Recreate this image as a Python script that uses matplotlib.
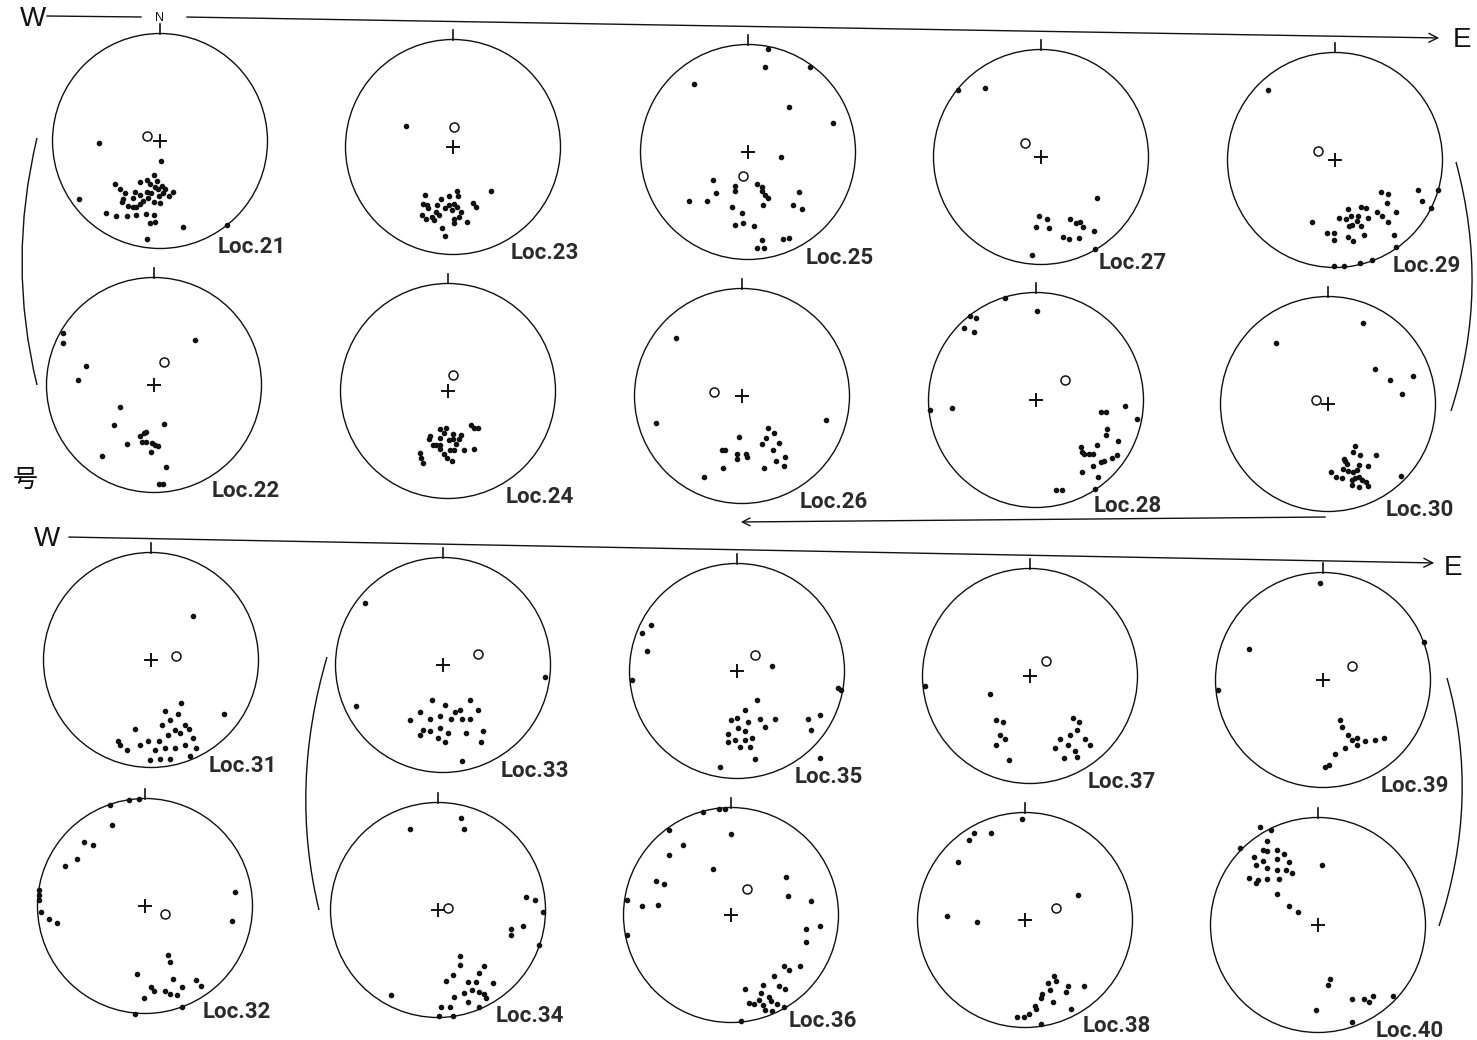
import numpy as np
import matplotlib.pyplot as plt
from matplotlib.path import Path
from matplotlib.patches import PathPatch, Circle

W, H = 1477, 1040

# poles per locality: (east, north) in units of the net radius
loc21 = [(-0.57, -0.02), (-0.75, -0.54), (0.01, -0.19), (0.62, -0.78), (0.21, -0.80), (-0.12, -0.91),
         (-0.42, -0.40), (-0.37, -0.45), (-0.33, -0.48), (-0.34, -0.54), (-0.35, -0.57), (-0.30, -0.60),
         (-0.25, -0.61), (-0.22, -0.61), (-0.19, -0.59), (-0.23, -0.47), (-0.19, -0.50), (-0.25, -0.53),
         (-0.19, -0.38), (-0.12, -0.36), (-0.06, -0.32), (-0.03, -0.37), (-0.09, -0.40), (-0.05, -0.43),
         (-0.02, -0.45), (0.02, -0.42), (0.03, -0.48), (-0.01, -0.51), (-0.08, -0.48), (-0.12, -0.47),
         (-0.11, -0.53), (-0.06, -0.57), (0.00, -0.58), (0.08, -0.51), (0.12, -0.47), (0.05, -0.45),
         (-0.16, -0.56), (-0.50, -0.67), (-0.41, -0.70), (-0.31, -0.70), (-0.22, -0.69), (-0.13, -0.68),
         (-0.06, -0.69), (-0.09, -0.76), (-0.05, -0.75)]
loc22 = [(-0.85, 0.48), (-0.85, 0.39), (-0.63, 0.18), (-0.71, 0.05), (0.38, 0.42), (-0.32, -0.20),
         (-0.37, -0.37), (0.09, -0.36), (-0.13, -0.47), (-0.09, -0.45), (-0.07, -0.44), (-0.11, -0.53),
         (-0.07, -0.53), (-0.02, -0.54), (0.01, -0.56), (0.04, -0.57), (-0.03, -0.62), (-0.25, -0.55),
         (-0.48, -0.66), (0.11, -0.76), (0.05, -0.92), (0.08, -0.92)]
loc23 = [(-0.44, 0.20), (0.35, -0.41), (-0.26, -0.45), (-0.28, -0.53), (-0.24, -0.54), (-0.23, -0.57),
         (-0.29, -0.63), (-0.25, -0.67), (-0.20, -0.65), (-0.16, -0.60), (-0.15, -0.54), (-0.11, -0.48),
         (-0.04, -0.46), (0.04, -0.41), (0.05, -0.46), (0.01, -0.53), (-0.04, -0.54), (-0.07, -0.57),
         (-0.01, -0.59), (0.04, -0.56), (0.07, -0.60), (0.06, -0.65), (0.01, -0.67), (0.01, -0.71),
         (0.13, -0.70), (0.19, -0.52), (0.21, -0.56), (-0.10, -0.75), (-0.07, -0.83), (-0.13, -0.63),
         (-0.18, -0.68)]
loc24 = [(0.21, -0.32), (0.24, -0.34), (0.28, -0.34), (-0.02, -0.34), (-0.07, -0.35), (-0.04, -0.39),
         (0.05, -0.40), (0.12, -0.41), (-0.17, -0.42), (-0.18, -0.45), (-0.07, -0.44), (0.01, -0.46),
         (0.05, -0.45), (0.10, -0.45), (0.07, -0.49), (-0.14, -0.50), (-0.11, -0.50), (-0.07, -0.50),
         (-0.07, -0.54), (0.02, -0.55), (0.06, -0.55), (0.15, -0.55), (0.24, -0.54), (-0.04, -0.59),
         (-0.01, -0.62), (0.04, -0.65), (-0.26, -0.58), (-0.25, -0.62), (-0.23, -0.67)]
loc25 = [(0.19, 0.96), (0.16, 0.79), (0.58, 0.79), (-0.50, 0.63), (0.38, 0.42), (0.79, 0.27),
         (0.31, -0.05), (-0.33, -0.26), (-0.12, -0.32), (-0.12, -0.36), (-0.30, -0.38), (-0.55, -0.46),
         (-0.38, -0.46), (0.08, -0.30), (0.13, -0.33), (0.13, -0.36), (0.16, -0.40), (0.19, -0.43),
         (0.47, -0.37), (0.42, -0.49), (0.50, -0.53), (0.14, -0.49), (-0.15, -0.51), (-0.06, -0.57),
         (-0.12, -0.68), (-0.05, -0.66), (0.06, -0.69), (0.13, -0.82), (0.08, -0.89), (0.15, -0.89),
         (0.33, -0.81), (0.38, -0.80)]
loc26 = [(-0.61, 0.54), (-0.80, -0.25), (0.78, -0.22), (-0.03, -0.38), (0.24, -0.30), (0.30, -0.34),
         (0.22, -0.39), (0.19, -0.45), (0.34, -0.44), (0.29, -0.50), (0.40, -0.57), (0.32, -0.60),
         (0.39, -0.65), (0.20, -0.67), (-0.19, -0.50), (-0.16, -0.50), (-0.05, -0.54), (-0.05, -0.59),
         (0.04, -0.54), (0.05, -0.57), (-0.18, -0.67), (-0.35, -0.75)]
loc27 = [(-0.77, 0.62), (-0.52, 0.64), (0.52, -0.38), (-0.02, -0.55), (0.06, -0.58), (-0.05, -0.65),
         (0.07, -0.66), (0.27, -0.58), (0.33, -0.61), (0.36, -0.60), (0.39, -0.65), (0.49, -0.69),
         (0.20, -0.74), (0.26, -0.76), (0.35, -0.75), (0.50, -0.86), (-0.08, -0.91)]
loc28 = [(-0.29, 0.95), (0.01, 0.83), (-0.61, 0.78), (-0.56, 0.76), (-0.67, 0.67), (-0.58, 0.63),
         (-0.99, -0.09), (-0.78, -0.07), (0.83, -0.06), (0.94, -0.18), (0.60, -0.11), (0.65, -0.11),
         (0.66, -0.27), (0.65, -0.33), (0.76, -0.38), (0.57, -0.42), (0.42, -0.44), (0.43, -0.48),
         (0.45, -0.50), (0.49, -0.50), (0.53, -0.50), (0.71, -0.54), (0.75, -0.51), (0.60, -0.58),
         (0.63, -0.57), (0.53, -0.61), (0.43, -0.67), (0.58, -0.72), (0.55, -0.83), (0.19, -0.84),
         (0.24, -0.84)]
loc29 = [(-0.62, 0.65), (-0.21, -0.58), (0.43, -0.30), (0.49, -0.32), (0.77, -0.28), (0.96, -0.28),
         (0.81, -0.38), (0.89, -0.45), (0.48, -0.40), (0.57, -0.48), (0.39, -0.48), (0.44, -0.52),
         (0.49, -0.58), (0.24, -0.44), (0.29, -0.45), (0.31, -0.54), (0.12, -0.46), (0.10, -0.55),
         (0.04, -0.54), (0.15, -0.52), (0.21, -0.52), (0.20, -0.57), (0.24, -0.61), (0.16, -0.60),
         (0.13, -0.61), (-0.07, -0.68), (-0.01, -0.68), (-0.01, -0.74), (0.12, -0.72), (0.17, -0.75),
         (0.27, -0.70), (0.55, -0.70), (0.57, -0.81), (0.34, -0.93), (0.23, -0.96), (0.08, -0.99),
         (-0.01, -0.99)]
loc30 = [(0.33, 0.75), (-0.48, 0.57), (0.44, 0.33), (0.58, 0.22), (0.79, 0.26), (0.69, 0.09),
         (0.25, -0.39), (0.23, -0.45), (0.30, -0.47), (0.45, -0.47), (0.37, -0.58), (0.15, -0.51),
         (0.16, -0.53), (0.18, -0.56), (0.29, -0.57), (0.14, -0.60), (0.19, -0.62), (0.23, -0.63),
         (0.27, -0.61), (0.03, -0.63), (0.07, -0.68), (0.13, -0.69), (0.22, -0.71), (0.25, -0.69),
         (0.29, -0.68), (0.32, -0.71), (0.35, -0.73), (0.22, -0.75), (0.29, -0.77), (0.37, -0.76),
         (0.68, -0.67)]
loc31 = [(0.39, 0.41), (0.68, -0.50), (0.28, -0.40), (0.25, -0.50), (0.18, -0.56), (0.10, -0.60),
         (0.32, -0.60), (0.22, -0.65), (0.16, -0.70), (0.27, -0.68), (0.07, -0.75), (-0.03, -0.75),
         (-0.10, -0.79), (0.04, -0.84), (0.13, -0.82), (0.22, -0.82), (0.32, -0.79), (0.39, -0.73),
         (-0.29, -0.79), (-0.22, -0.84), (-0.15, -0.64), (0.08, -0.92), (0.18, -0.92), (-0.01, -0.93),
         (0.36, -0.89), (-0.31, -0.75), (0.42, -0.82), (0.13, -0.47), (0.35, -0.64)]
loc32 = [(-0.31, 0.75), (-0.57, 0.60), (-0.48, 0.57), (-0.63, 0.44), (-0.74, 0.37), (-0.33, 0.94),
         (-0.15, 0.99), (-0.06, 1.0), (-0.99, 0.15), (-0.99, 0.10), (-0.99, 0.06), (-0.97, -0.06),
         (-0.89, -0.12), (-0.82, -0.16), (0.84, 0.13), (0.81, -0.14), (0.21, -0.46), (0.23, -0.52),
         (-0.07, -0.63), (0.26, -0.68), (0.06, -0.75), (0.08, -0.79), (0.34, -0.75), (0.47, -0.69),
         (0.52, -0.74), (0.19, -0.79), (0.23, -0.82), (0.30, -0.83), (-0.01, -0.86), (0.34, -0.94),
         (-0.09, -1.0)]
loc33 = [(-0.73, 0.58), (0.95, -0.11), (-0.81, -0.38), (-0.10, -0.33), (0.02, -0.37), (0.16, -0.42),
         (-0.21, -0.44), (-0.12, -0.50), (-0.03, -0.47), (0.07, -0.50), (0.11, -0.44), (0.18, -0.50),
         (0.25, -0.50), (0.33, -0.42), (-0.19, -0.60), (-0.12, -0.61), (-0.03, -0.59), (0.05, -0.63),
         (0.21, -0.63), (0.37, -0.61), (-0.21, -0.65), (-0.05, -0.68), (0.02, -0.72), (0.35, -0.72),
         (0.18, -0.89), (-0.31, -0.51), (0.25, -0.33)]
loc34 = [(0.21, 0.86), (0.24, 0.75), (-0.26, 0.75), (0.82, 0.12), (0.90, 0.09), (0.98, -0.02),
         (0.79, -0.15), (0.68, -0.18), (0.68, -0.23), (0.94, -0.33), (-0.44, -0.79), (0.20, -0.43),
         (0.20, -0.51), (0.43, -0.52), (0.14, -0.60), (0.38, -0.59), (0.07, -0.66), (0.28, -0.67),
         (0.35, -0.67), (0.51, -0.68), (0.32, -0.74), (0.38, -0.76), (0.43, -0.78), (0.24, -0.77),
         (0.15, -0.81), (0.45, -0.82), (0.28, -0.86), (0.11, -0.90), (0.03, -0.90), (0.38, -0.90),
         (0.01, -0.99), (0.14, -0.99)]
loc35 = [(-0.80, 0.43), (-0.88, 0.35), (-0.84, 0.19), (-0.98, -0.08), (0.33, 0.05), (0.94, -0.16),
         (0.97, -0.18), (0.07, -0.36), (0.19, -0.27), (-0.06, -0.46), (0.00, -0.44), (0.10, -0.47),
         (0.21, -0.45), (0.35, -0.45), (0.01, -0.53), (0.07, -0.56), (-0.08, -0.59), (-0.02, -0.64),
         (0.07, -0.64), (0.14, -0.62), (-0.08, -0.66), (0.03, -0.71), (0.12, -0.71), (0.17, -0.82),
         (0.66, -0.45), (0.77, -0.41), (0.69, -0.55), (0.26, -0.52), (-0.16, -0.89), (0.77, -0.81)]
loc36 = [(-0.26, 0.96), (-0.11, 0.99), (-0.06, 0.99), (-0.58, 0.79), (0.00, 0.75), (-0.45, 0.65),
         (-0.58, 0.56), (-0.17, 0.43), (-0.70, 0.32), (-0.62, 0.29), (-0.97, 0.14), (-0.68, 0.09),
         (-0.83, 0.08), (-0.97, -0.19), (0.51, 0.35), (0.53, 0.18), (0.74, 0.13), (0.83, -0.10),
         (0.70, -0.13), (0.70, -0.25), (0.49, -0.47), (0.64, -0.47), (0.54, -0.51), (0.40, -0.57),
         (0.13, -0.69), (0.30, -0.65), (0.45, -0.66), (0.50, -0.69), (0.28, -0.73), (0.35, -0.76),
         (0.26, -0.79), (0.37, -0.80), (0.21, -0.83), (0.30, -0.84), (0.43, -0.83), (0.32, -0.88),
         (0.49, -0.86), (0.38, -0.89), (0.09, -0.99), (0.17, -0.82)]
loc37 = [(-0.98, -0.09), (-0.37, -0.17), (-0.32, -0.41), (-0.25, -0.43), (-0.28, -0.55), (-0.23, -0.59),
         (-0.32, -0.64), (-0.20, -0.78), (0.40, -0.39), (0.46, -0.43), (0.44, -0.50), (0.37, -0.55),
         (0.51, -0.59), (0.28, -0.59), (0.23, -0.67), (0.35, -0.64), (0.42, -0.70), (0.32, -0.76),
         (0.44, -0.75), (0.56, -0.64)]
loc38 = [(-0.03, 0.94), (-0.47, 0.81), (-0.32, 0.81), (-0.52, 0.74), (-0.62, 0.54), (-0.73, 0.04),
         (-0.45, -0.02), (0.49, 0.23), (0.27, -0.52), (0.29, -0.57), (0.21, -0.59), (0.40, -0.61),
         (0.55, -0.61), (0.23, -0.65), (0.16, -0.69), (0.38, -0.67), (0.15, -0.73), (0.26, -0.76),
         (0.09, -0.80), (0.10, -0.83), (0.43, -0.83), (0.04, -0.87), (-0.01, -0.90), (-0.07, -0.90),
         (0.15, -0.97)]
loc39 = [(-0.03, 0.90), (-0.69, 0.29), (0.94, 0.35), (-0.98, -0.09), (0.16, -0.37), (0.18, -0.44),
         (0.23, -0.51), (0.27, -0.56), (0.32, -0.54), (0.39, -0.57), (0.48, -0.56), (0.57, -0.54),
         (0.32, -0.60), (0.20, -0.63), (0.11, -0.69), (0.06, -0.79), (0.02, -0.81)]
loc40 = [(-0.54, 0.91), (-0.44, 0.88), (-0.47, 0.78), (-0.51, 0.70), (-0.47, 0.69), (-0.38, 0.70),
         (-0.32, 0.66), (-0.60, 0.63), (-0.51, 0.60), (-0.38, 0.61), (-0.27, 0.59), (-0.58, 0.56),
         (-0.47, 0.53), (-0.38, 0.51), (-0.30, 0.51), (-0.24, 0.48), (-0.64, 0.44), (-0.56, 0.42),
         (-0.47, 0.43), (-0.58, 0.39), (-0.36, 0.43), (-0.38, 0.29), (0.04, 0.56), (-0.27, 0.18),
         (-0.19, 0.12), (-0.73, 0.72), (0.11, -0.50), (0.09, -0.56), (0.32, -0.69), (0.43, -0.69),
         (0.51, -0.66), (0.47, -0.72), (0.70, -0.66), (-0.02, -0.79), (0.32, -0.90)]

poles = {21: loc21, 22: loc22, 23: loc23, 24: loc24, 25: loc25, 26: loc26, 27: loc27,
         28: loc28, 29: loc29, 30: loc30, 31: loc31, 32: loc32, 33: loc33, 34: loc34,
         35: loc35, 36: loc36, 37: loc37, 38: loc38, 39: loc39, 40: loc40}

# mean pole (open circle); Loc.40 has none
means = {21: (-0.12, 0.05), 22: (0.09, 0.21), 23: (0.01, 0.19), 24: (0.05, 0.15), 25: (-0.05, -0.22),
         26: (-0.26, 0.04), 27: (-0.15, 0.13), 28: (0.27, 0.19), 29: (-0.16, 0.08), 30: (-0.11, 0.04),
         31: (0.23, 0.04), 32: (0.19, -0.07), 33: (0.33, 0.10), 34: (0.09, 0.02), 35: (0.17, 0.15),
         36: (0.15, 0.24), 37: (0.15, 0.14), 38: (0.29, 0.11), 39: (0.27, 0.13)}

# page layout: net centres in pixels
centres = {21: (160, 141), 23: (453, 147), 25: (748, 152), 27: (1041, 157), 29: (1335, 160),
           22: (154, 385), 24: (448, 391), 26: (742, 396), 28: (1036, 400), 30: (1328, 404),
           31: (151, 660), 33: (443, 665), 35: (737, 671), 37: (1030, 676), 39: (1323, 680),
           32: (145, 906), 34: (438, 910), 36: (731, 915), 38: (1025, 920), 40: (1318, 925)}
R = 107.5
PAD = 1.25

fig = plt.figure(figsize=(W / 100, H / 100), dpi=100)
bg = fig.add_axes([0, 0, 1, 1])
bg.set_xlim(0, W)
bg.set_ylim(H, 0)
bg.axis("off")

ink = "#111111"
label_font = ["Roboto", "DejaVu Sans"]

# ---- direction arrows and letters ----
bg.text(33, 19, "W", fontsize=20, ha="center", va="center", color=ink, family="Liberation Sans")
bg.plot([47, 141], [16, 17], color=ink, lw=1.0)
bg.text(160, 18, "N", fontsize=9, ha="center", va="center", color=ink, family="Liberation Sans")
bg.annotate("", xy=(1442, 38), xytext=(184, 17),
            arrowprops=dict(arrowstyle="->", lw=1.0, color=ink, mutation_scale=16))
bg.text(1462, 40, "E", fontsize=20, ha="center", va="center", color=ink, family="Liberation Sans")

bg.annotate("", xy=(738, 522), xytext=(1328, 517),
            arrowprops=dict(arrowstyle="->", lw=1.0, color=ink, mutation_scale=14))

bg.text(47, 539, "W", fontsize=20, ha="center", va="center", color=ink, family="Liberation Sans")
bg.annotate("", xy=(1437, 563), xytext=(66, 537),
            arrowprops=dict(arrowstyle="->", lw=1.0, color=ink, mutation_scale=16))
bg.text(1453, 568, "E", fontsize=20, ha="center", va="center", color=ink, family="Liberation Sans")

bg.text(25, 480, "号", fontsize=18, ha="center", va="center", color=ink,
        family=["Noto Sans CJK JP", "DejaVu Sans"])


def bracket(p0, mid, p2):
    ctrl = (2 * mid[0] - (p0[0] + p2[0]) / 2, 2 * mid[1] - (p0[1] + p2[1]) / 2)
    path = Path([p0, ctrl, p2], [Path.MOVETO, Path.CURVE3, Path.CURVE3])
    bg.add_patch(PathPatch(path, fill=False, lw=1.0, color=ink))


bracket((37, 138), (22, 262), (37, 385))
bracket((1456, 162), (1472, 288), (1451, 411))
bracket((327, 657), (306, 785), (319, 910))
bracket((1447, 678), (1462, 800), (1439, 926))

# ---- the nets ----
for loc, (cx, cy) in centres.items():
    ax = fig.add_axes([(cx - R * PAD) / W, 1 - (cy + R * PAD) / H,
                       2 * R * PAD / W, 2 * R * PAD / H])
    ax.set_xlim(-PAD, PAD)
    ax.set_ylim(-PAD, PAD)
    ax.axis("off")
    ax.add_patch(Circle((0, 0), 1, fill=False, lw=1.0, color=ink))
    ax.plot([0, 0], [1, 1.085], color=ink, lw=1.2)
    px, py = zip(*poles[loc])
    ax.plot(px, py, "o", ms=3.0, color=ink, mec=ink, clip_on=False)
    if loc in means:
        ax.plot(*means[loc], "o", ms=6.5, mfc="white", mec=ink, mew=1.1)
    ax.plot(0, 0, "+", ms=10, mew=1.4, color=ink)
    ax.text(0.54, -1.04, f"Loc.{loc}", fontsize=16, fontweight="bold", ha="left",
            va="baseline", color="#2b2b2b", family=label_font, clip_on=False)

fig.savefig("out.png", dpi=100, facecolor="white")
